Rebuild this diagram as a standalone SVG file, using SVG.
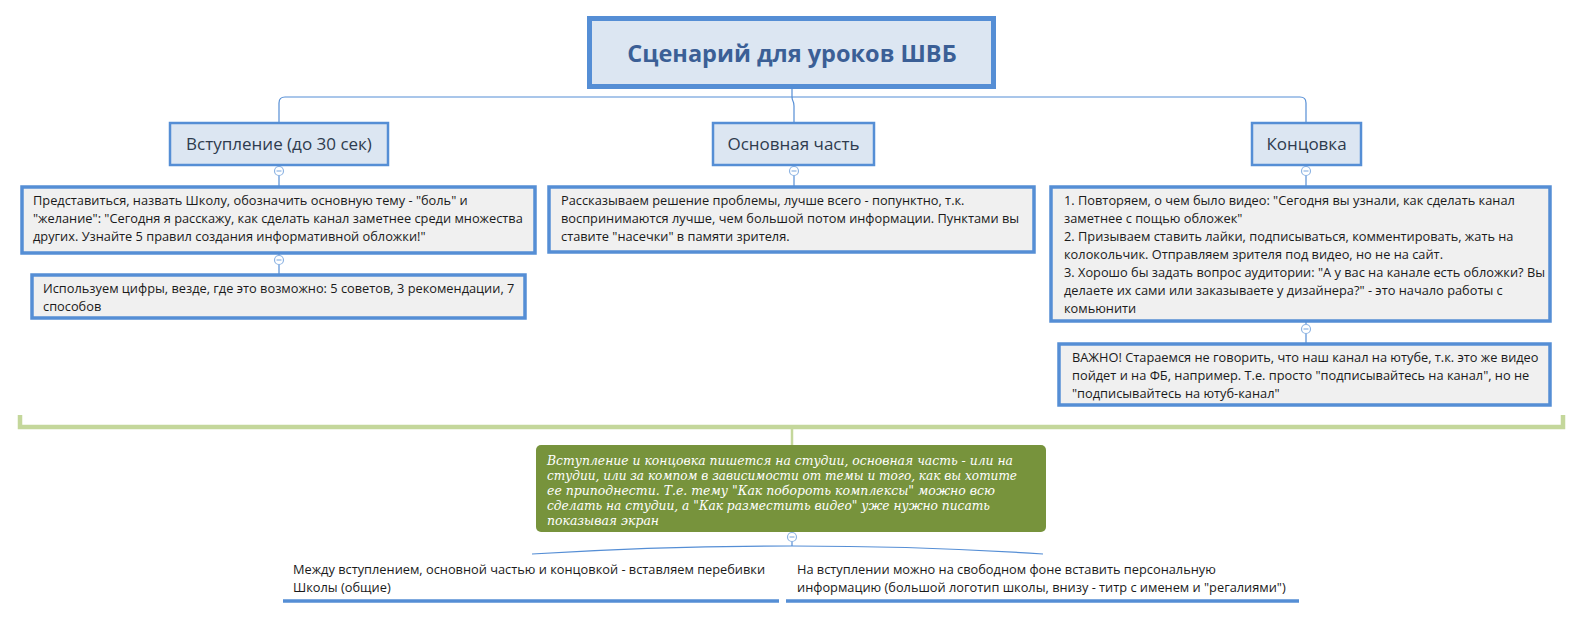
<svg xmlns="http://www.w3.org/2000/svg" width="1583" height="617" viewBox="0 0 1583 617">
<style>
.root{fill:#dce6f2;stroke:#558ed5;stroke-width:5}
.l1{fill:#dce6f2;stroke:#558ed5;stroke-width:2.5}
.l2{fill:#f0f0f0;stroke:#558ed5;stroke-width:3.5}
.t{font-family:"Open Sans","Noto Sans",sans-serif;font-size:12.8px;fill:#1a1a1a}
.t1{font-family:"Open Sans","Noto Sans",sans-serif;font-size:17px;fill:#2e3b4e;text-anchor:middle}
.tr{font-family:"Open Sans","Noto Sans",sans-serif;font-size:23.5px;font-weight:bold;fill:#3b5f96;text-anchor:middle}
.tg{font-family:"DejaVu Serif",serif;font-style:italic;font-size:12.8px;fill:#ffffff}
.c{fill:none;stroke:#558ed5;stroke-width:1.2}
.col{fill:#ffffff;stroke:#8eb4e3;stroke-width:1.2}
.colm{stroke:#8eb4e3;stroke-width:1.2}
.ul{stroke:#558ed5;stroke-width:3.5}
</style>
<g id="connectors">
<path class="c" d="M792,89 V97 H285 Q279,97 279,103 V123"/>
<path class="c" d="M792,97 H1300 Q1306,97 1306,103 V123"/>
<path class="c" d="M792,97 C792,102 794,100 794,106 V123"/>
<path class="c" d="M279,165 V187"/>
<path class="c" d="M794,165 V187"/>
<path class="c" d="M1306,165 V187"/>
<path class="c" d="M279,254 V275"/>
<path class="c" d="M1306,322 V344"/>
<path d="M20,415 V427 H1563 V415" fill="none" stroke="#c4d79b" stroke-width="4.5"/>
<path d="M792,429 V445" fill="none" stroke="#c4d79b" stroke-width="2.5"/>
<path class="c" d="M792,531 V546"/>
<path class="c" d="M792,546 Q660,546 532,554"/>
<path class="c" d="M792,546 Q920,546 1043,554"/>
<circle class="col" cx="279" cy="171" r="4.5"/><line class="colm" x1="276.5" y1="171" x2="281.5" y2="171"/>
<circle class="col" cx="794" cy="171" r="4.5"/><line class="colm" x1="791.5" y1="171" x2="796.5" y2="171"/>
<circle class="col" cx="1306" cy="171" r="4.5"/><line class="colm" x1="1303.5" y1="171" x2="1308.5" y2="171"/>
<circle class="col" cx="279" cy="260" r="4.5"/><line class="colm" x1="276.5" y1="260" x2="281.5" y2="260"/>
<circle class="col" cx="1306" cy="329" r="4.5"/><line class="colm" x1="1303.5" y1="329" x2="1308.5" y2="329"/>
<circle class="col" cx="792" cy="537" r="4.5"/><line class="colm" x1="789.5" y1="537" x2="794.5" y2="537"/>
</g>
<g id="root">
<rect class="root" x="589.5" y="18.5" width="404" height="68"/>
<text class="tr" x="792" y="62">Сценарий для уроков ШВБ</text>
</g>
<g id="intro">
<rect class="l1" x="170" y="123" width="218" height="42"/>
<text class="t1" x="279" y="150">Вступление (до 30 сек)</text>
</g>
<g id="main">
<rect class="l1" x="713" y="123" width="161" height="42"/>
<text class="t1" x="793.5" y="150">Основная часть</text>
</g>
<g id="ending">
<rect class="l1" x="1252" y="123" width="109" height="42"/>
<text class="t1" x="1306.5" y="150">Концовка</text>
</g>
<g id="intro-text">
<rect class="l2" x="22" y="187" width="513" height="66"/>
<text class="t"><tspan x="33" y="205">Представиться, назвать Школу, обозначить основную тему - "боль" и</tspan><tspan x="33" y="223">"желание": "Сегодня я расскажу, как сделать канал заметнее среди множества</tspan><tspan x="33" y="241">других. Узнайте 5 правил создания информативной обложки!"</tspan></text>
</g>
<g id="intro-digits">
<rect class="l2" x="32" y="275" width="493" height="43"/>
<text class="t"><tspan x="43" y="293">Используем цифры, везде, где это возможно: 5 советов, 3 рекомендации, 7</tspan><tspan x="43" y="311">способов</tspan></text>
</g>
<g id="main-text">
<rect class="l2" x="549" y="187" width="485" height="65"/>
<text class="t"><tspan x="561" y="205">Рассказываем решение проблемы, лучше всего - попунктно, т.к.</tspan><tspan x="561" y="223">воспринимаются лучше, чем большой потом информации. Пунктами вы</tspan><tspan x="561" y="241">ставите "насечки" в памяти зрителя.</tspan></text>
</g>
<g id="ending-text">
<rect class="l2" x="1051" y="187" width="499" height="134"/>
<text class="t"><tspan x="1064" y="205">1. Повторяем, о чем было видео: "Сегодня вы узнали, как сделать канал</tspan><tspan x="1064" y="223">заметнее с пощью обложек"</tspan><tspan x="1064" y="241">2. Призываем ставить лайки, подписываться, комментировать, жать на</tspan><tspan x="1064" y="259">колокольчик. Отправляем зрителя под видео, но не на сайт.</tspan><tspan x="1064" y="277">3. Хорошо бы задать вопрос аудитории: "А у вас на канале есть обложки? Вы</tspan><tspan x="1064" y="295">делаете их сами или заказываете у дизайнера?" - это начало работы с</tspan><tspan x="1064" y="313">комьюнити</tspan></text>
</g>
<g id="ending-important">
<rect class="l2" x="1059" y="344" width="491" height="61"/>
<text class="t"><tspan x="1072" y="362">ВАЖНО! Стараемся не говорить, что наш канал на ютубе, т.к. это же видео</tspan><tspan x="1072" y="380">пойдет и на ФБ, например. Т.е. просто "подписывайтесь на канал", но не</tspan><tspan x="1072" y="398">"подписывайтесь на ютуб-канал"</tspan></text>
</g>
<g id="summary">
<rect x="536" y="445" width="510" height="87" rx="5" fill="#77933c"/>
<text class="tg" x="547" y="465" textLength="466" lengthAdjust="spacingAndGlyphs">Вступление и концовка пишется на студии, основная часть - или на</text>
<text class="tg" x="547" y="480" textLength="470" lengthAdjust="spacingAndGlyphs">студии, или за компом в зависимости от темы и того, как вы хотите</text>
<text class="tg" x="547" y="495" textLength="448" lengthAdjust="spacingAndGlyphs">ее приподнести. Т.е. тему "Как побороть комплексы" можно всю</text>
<text class="tg" x="547" y="510" textLength="443" lengthAdjust="spacingAndGlyphs">сделать на студии, а "Как разместить видео" уже нужно писать</text>
<text class="tg" x="547" y="525" textLength="112" lengthAdjust="spacingAndGlyphs">показывая экран</text>
</g>
<g id="bottom-left">
<line class="ul" x1="283" y1="601" x2="779" y2="601"/>
<text class="t"><tspan x="293" y="574">Между вступлением, основной частью и концовкой - вставляем перебивки</tspan><tspan x="293" y="592">Школы (общие)</tspan></text>
</g>
<g id="bottom-right">
<line class="ul" x1="786" y1="601" x2="1299" y2="601"/>
<text class="t"><tspan x="797" y="574">На вступлении можно на свободном фоне вставить персональную</tspan><tspan x="797" y="592">информацию (большой логотип школы, внизу - титр с именем и "регалиями")</tspan></text>
</g>
</svg>
